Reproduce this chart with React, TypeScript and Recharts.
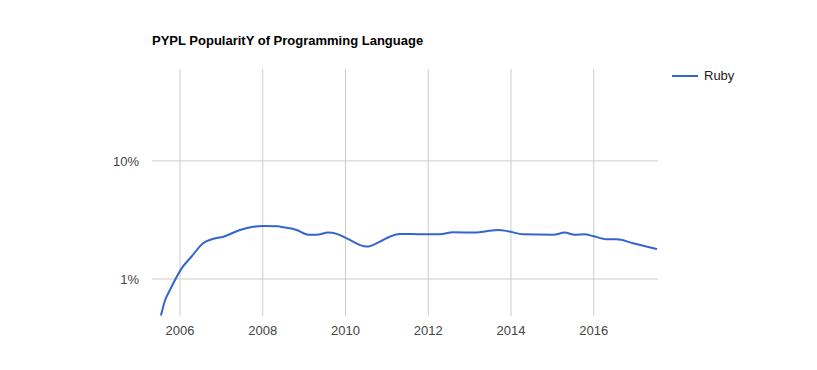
import React from 'react';
import { LineChart, Line, XAxis, YAxis, CartesianGrid } from 'recharts';

// PYPL share for Ruby (decimal year -> percent)
const years = [
  2005.54, 2005.64, 2005.76, 2005.88, 2006.04, 2006.28, 2006.56, 2006.77, 2007.05, 2007.45,
  2007.77, 2008.01, 2008.37, 2008.5, 2008.82, 2009.1, 2009.3, 2009.58, 2009.79, 2010.03,
  2010.51, 2010.83, 2011.07, 2011.31, 2011.88, 2012.28, 2012.6, 2013.17, 2013.41, 2013.69,
  2013.93, 2014.29, 2015.02, 2015.3, 2015.54, 2015.78, 2015.98, 2016.31, 2016.55, 2016.95,
  2017.53,
];
const ruby = [
  0.49, 0.66, 0.81, 0.98, 1.23, 1.55, 2.01, 2.17, 2.28, 2.6,
  2.77, 2.81, 2.79, 2.74, 2.6, 2.37, 2.37, 2.47, 2.41, 2.21,
  1.88, 2.07, 2.28, 2.41, 2.39, 2.39, 2.49, 2.47, 2.54, 2.6,
  2.54, 2.39, 2.37, 2.47, 2.37, 2.39, 2.31, 2.17, 2.17, 2.01,
  1.79,
];
const yearTicks = [2006, 2008, 2010, 2012, 2014, 2016];
const percentTicks = [1, 10];

const data = years.map((year, i) => ({ year, ruby: ruby[i] }));

const font = '"Liberation Sans", Arial, sans-serif';

export default function App() {
  return (
    <div style={{ position: 'absolute', left: 0, top: 0, width: 817, height: 370, background: '#fff' }}>
      <div
        style={{
          position: 'absolute',
          left: 152,
          top: 34,
          fontFamily: font,
          fontSize: 13,
          lineHeight: '13px',
          fontWeight: 'bold',
          color: '#000',
          zIndex: 1,
        }}
      >
        PYPL PopularitY of Programming Language
      </div>
      {/* legend, drawn by hand so it takes no room from the plot */}
      <div
        style={{
          position: 'absolute',
          left: 672,
          top: 68,
          display: 'flex',
          alignItems: 'center',
          fontFamily: font,
          fontSize: 13,
          color: '#222',
          zIndex: 1,
        }}
      >
        <svg width={26} height={14} style={{ marginRight: 6 }}>
          <line x1={0} y1={7} x2={26} y2={7} stroke="#3366cc" strokeWidth={2} />
        </svg>
        <span>Ruby</span>
      </div>
      <LineChart width={817} height={370} data={data} margin={{ top: 69, right: 159, bottom: 24, left: 102 }}>
        <CartesianGrid stroke="#cccccc" strokeWidth={1} verticalValues={yearTicks} horizontalValues={percentTicks} />
        <XAxis
          dataKey="year"
          type="number"
          domain={[2005.324, 2017.553]}
          ticks={yearTicks}
          allowDataOverflow
          axisLine={false}
          tickLine={false}
          tickSize={0}
          tickMargin={10}
          height={30}
          tick={{ fill: '#444', fontSize: 13, fontFamily: font }}
        />
        <YAxis
          type="number"
          scale="log"
          domain={[0.486, 60]}
          ticks={percentTicks}
          allowDataOverflow
          axisLine={false}
          tickLine={false}
          tickSize={0}
          tickMargin={13}
          width={50}
          tickFormatter={(v: number) => `${v}%`}
          tick={{ fill: '#444', fontSize: 13, fontFamily: font }}
        />
        <Line
          type="monotone"
          dataKey="ruby"
          stroke="#3366cc"
          strokeWidth={2}
          dot={false}
          activeDot={false}
          isAnimationActive={false}
        />
      </LineChart>
    </div>
  );
}
